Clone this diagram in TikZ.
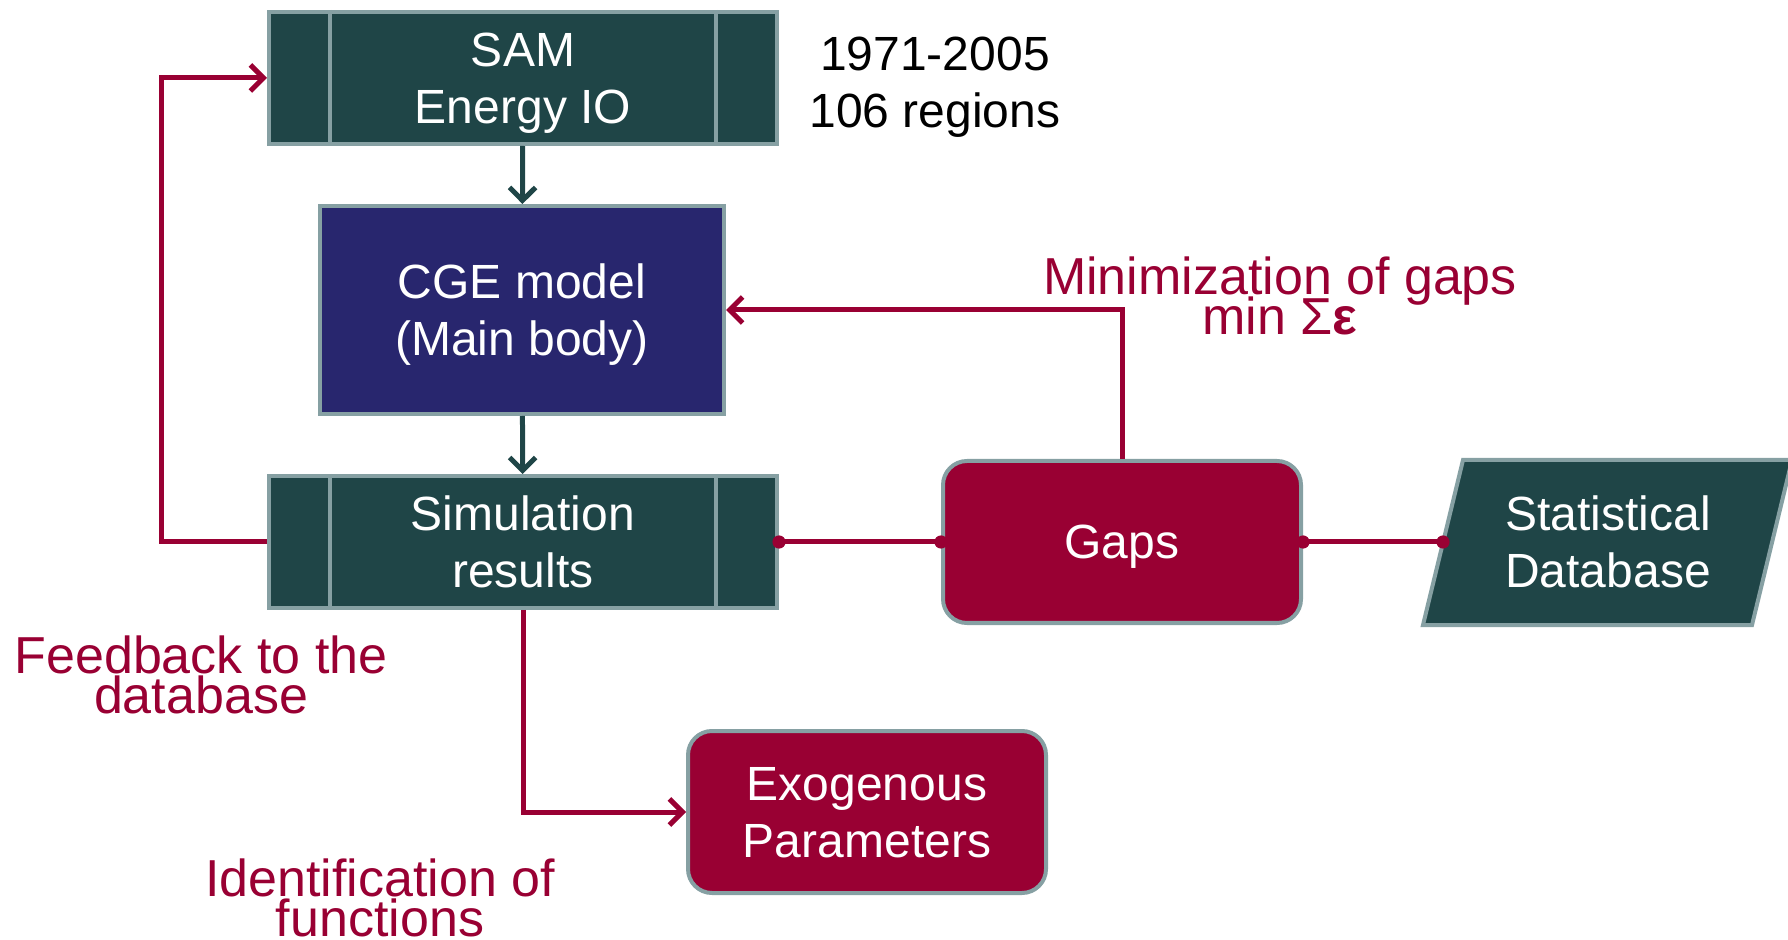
\documentclass[tikz,border=0pt]{standalone}
\usepackage{fontspec}
\setmainfont{Liberation Sans}
\usetikzlibrary{arrows.meta}
\definecolor{boxteal}{RGB}{31,69,71}
\definecolor{boxnavy}{RGB}{40,38,110}
\definecolor{boxred}{RGB}{153,0,51}
\definecolor{boxedge}{RGB}{134,160,163}

\begin{document}
\begin{tikzpicture}[
    x = 0.5pt,
    y = -0.5pt,
    >={Straight Barb[length=6.5pt,width=13pt]},
    block/.style = {draw=boxedge, line width=2pt, text=white, align=center,
              font=\fontsize{24}{28.5}\selectfont, inner sep=0pt, text depth=0pt},
    proc/.style = {block, fill=boxteal, minimum width=254pt, minimum height=66pt},
    soft/.style = {block, fill=boxred, rounded corners=12pt,
              minimum width=179pt, minimum height=81pt},
    note/.style = {text=boxred, align=center, inner sep=0pt,
              font={\fontsize{26}{20}\selectfont\lineskiplimit=-30pt}},
    flow/.style = {->, boxteal, line width=2.5pt},
    link/.style = {boxred, line width=2.5pt},
    ]

\useasboundingbox (0,0) rectangle (1788,940);

% boxes
\node[proc] (sam_io) at (523,78) {SAM\\Energy IO};
\node[block, fill=boxnavy, minimum width=202pt, minimum height=104pt]
    (cge_model) at (522,310) {CGE model\\(Main body)};
\node[proc] (sim_res) at (523,542) {Simulation\\results};
\node[soft] (gaps) at (1122,542) {Gaps};
\node[soft] (exo_par) at (867,812) {Exogenous\\Parameters};

% database, slanted
\draw[boxedge, fill=boxteal, line width=2pt]
    (1423,625) -- (1463,460) -- (1792,460) -- (1752,625) -- cycle;
\coordinate (db_in) at (1443,542);
\node[block, draw=none] (stat_db) at (1608,542) {Statistical\\Database};

\foreach \n in {sam_io, sim_res} {
  \draw[boxedge, line width=2pt] ([xshift=31.5pt]\n.north west) -- ([xshift=31.5pt]\n.south west);
  \draw[boxedge, line width=2pt] ([xshift=-31.5pt]\n.north east) -- ([xshift=-31.5pt]\n.south east);
}

\node[align=center, font=\fontsize{24}{28.5}\selectfont, inner sep=0pt, text depth=0pt]
    (period) at (935,82) {1971-2005\\106 regions};

% connectors
\draw[flow] (sam_io) -- (cge_model);
\draw[flow] (cge_model) -- (sim_res);

\coordinate (fb_left) at (161,542);
\draw[link, ->] (sim_res.west) -- (fb_left) |- (sam_io.west);
\draw[link, ->] (gaps.north) |- (cge_model.east);
\draw[link, ->] (sim_res.south) |- (exo_par.west);
\draw[link] (sim_res.east) -- (gaps.west);
\draw[link] (gaps.east) -- (db_in);
\foreach \p in {sim_res.east, gaps.west, gaps.east, db_in}
  \fill[boxred] (\p) circle (3.3pt);

% labels
\node[note] (min_gaps) at (1280,296) {Minimization of gaps\\min Σ\textbf{ε}};
\node[note] (feedback) at (201,675) {Feedback to the\\database};
\node[note] (ident_fn) at (380,898) {Identification of\\functions};

\end{tikzpicture}
\end{document}
